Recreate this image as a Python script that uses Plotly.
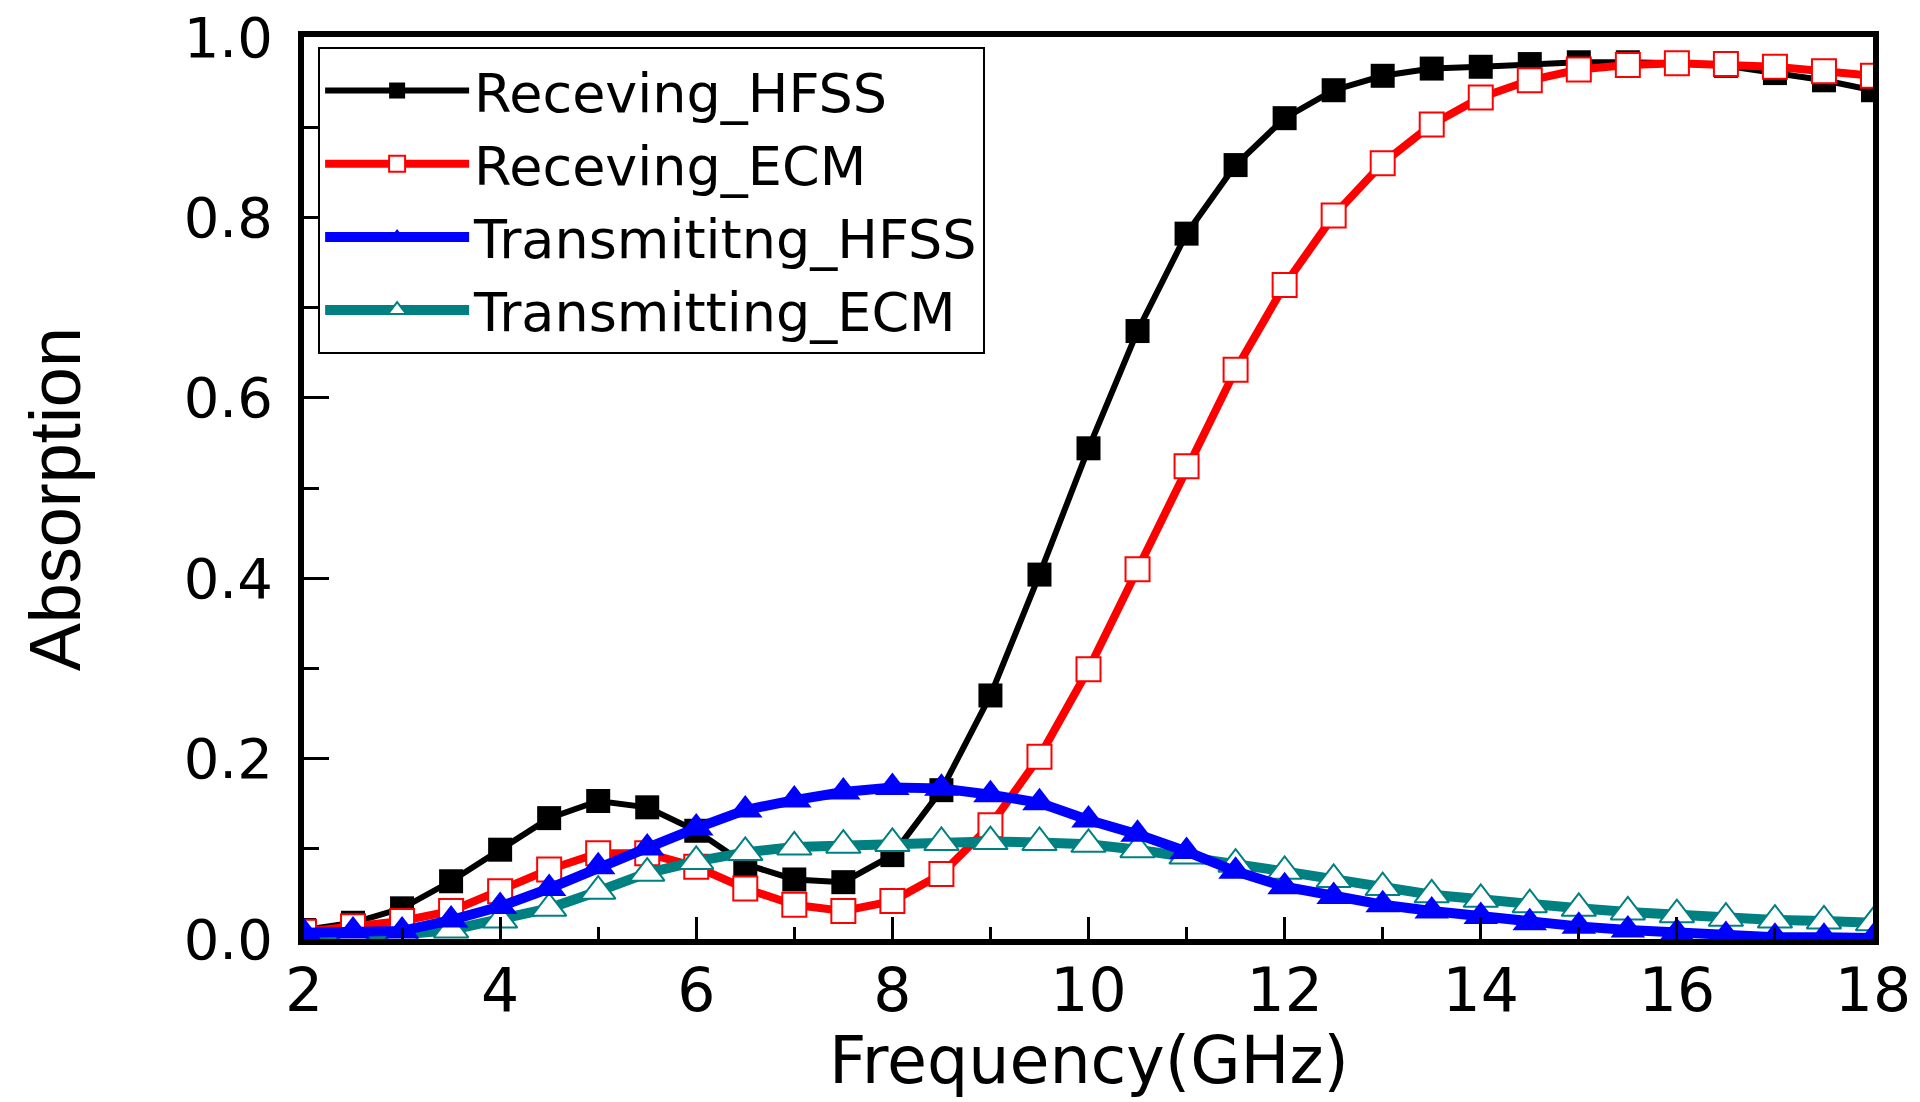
import plotly.graph_objects as go

freq = [2 + 0.5 * i for i in range(33)]

receiving_hfss = [0.010, 0.018, 0.034, 0.064, 0.099, 0.134, 0.153, 0.146, 0.120, 0.083,
                  0.066, 0.063, 0.093, 0.165, 0.270, 0.404, 0.544, 0.674, 0.782, 0.858,
                  0.910, 0.941, 0.957, 0.965, 0.967, 0.970, 0.972, 0.972, 0.971, 0.968,
                  0.960, 0.952, 0.941]
receiving_ecm = [0.008, 0.014, 0.020, 0.031, 0.053, 0.077, 0.095, 0.095, 0.080, 0.056,
                 0.038, 0.031, 0.042, 0.072, 0.126, 0.202, 0.299, 0.410, 0.524, 0.631,
                 0.725, 0.802, 0.860, 0.903, 0.933, 0.952, 0.964, 0.969, 0.971, 0.970,
                 0.967, 0.962, 0.957]
transmitting_hfss = [0.007, 0.009, 0.009, 0.021, 0.036, 0.056, 0.080, 0.101, 0.123, 0.143,
                     0.154, 0.163, 0.168, 0.167, 0.160, 0.151, 0.132, 0.116, 0.097, 0.075,
                     0.058, 0.047, 0.038, 0.031, 0.025, 0.018, 0.014, 0.010, 0.007, 0.004,
                     0.002, 0.002, 0.001]
transmitting_ecm = [0.003, 0.004, 0.005, 0.010, 0.021, 0.034, 0.053, 0.073, 0.086, 0.096,
                    0.102, 0.104, 0.106, 0.107, 0.108, 0.107, 0.105, 0.099, 0.092, 0.083,
                    0.075, 0.066, 0.057, 0.049, 0.044, 0.038, 0.034, 0.030, 0.027, 0.023,
                    0.021, 0.020, 0.018]

names = ["Receving_HFSS", "Receving_ECM", "Transmititng_HFSS", "Transmitting_ECM"]
x_title = "Frequency(GHz)"
y_title = "Absorption"
TEAL = "#008080"

fig = go.Figure()
fig.add_trace(go.Scatter(x=freq, y=receiving_hfss, name=names[0], mode="lines+markers",
                         line=dict(color="black", width=6),
                         marker=dict(symbol="square", size=24, color="black"),
                         legendrank=1))
fig.add_trace(go.Scatter(x=freq, y=receiving_ecm, name=names[1], mode="lines+markers",
                         line=dict(color="red", width=8),
                         marker=dict(symbol="square", size=24, color="white",
                                     line=dict(color="red", width=2)),
                         legendrank=2))
fig.add_trace(go.Scatter(x=freq, y=transmitting_ecm, name=names[3], mode="lines+markers",
                         line=dict(color=TEAL, width=10),
                         marker=dict(symbol="triangle-up", size=30, color="white",
                                     line=dict(color=TEAL, width=2)),
                         legendrank=4))
fig.add_trace(go.Scatter(x=freq, y=transmitting_hfss, name=names[2], mode="lines+markers",
                         line=dict(color="blue", width=10),
                         marker=dict(symbol="triangle-up", size=30, color="blue"),
                         legendrank=3))

fig.update_layout(
    width=1920, height=1102,
    margin=dict(l=304, r=47, t=37, b=163),
    paper_bgcolor="white", plot_bgcolor="white",
    font=dict(family="DejaVu Sans", color="black"),
    legend=dict(x=0.009, y=0.989, xanchor="left", yanchor="top",
                bgcolor="white", bordercolor="black", borderwidth=2,
                font=dict(family="DejaVu Sans", size=54, color="black"),
                itemwidth=144, tracegroupgap=0),
    showlegend=True,
    annotations=[
        dict(text=y_title, textangle=-90, xref="paper", yref="paper",
             x=-0.159, y=0.487, xanchor="center", yanchor="middle",
             showarrow=False,
             font=dict(family="Liberation Sans, Arial", size=72, color="black")),
        dict(text=x_title, xref="paper", yref="paper",
             x=0.5, y=-0.135, xanchor="center", yanchor="middle",
             showarrow=False,
             font=dict(family="DejaVu Sans", size=65, color="black")),
    ],
)
fig.update_xaxes(range=[2, 18], tickmode="linear", tick0=2, dtick=2,
                 ticks="inside", ticklen=22, tickwidth=3, tickcolor="black",
                 minor=dict(dtick=1, ticks="inside", ticklen=12, tickwidth=3, tickcolor="black"),
                 showline=True, linewidth=6, linecolor="black", mirror=True,
                 showgrid=False, zeroline=False, automargin=False,
                 ticklabelstandoff=-6,
                 tickfont=dict(family="DejaVu Sans", size=60))
fig.update_yaxes(range=[0, 1], tickmode="linear", tick0=0, dtick=0.2, tickformat=".1f",
                 ticks="inside", ticklen=25, tickwidth=3, tickcolor="black",
                 minor=dict(dtick=0.1, ticks="inside", ticklen=15, tickwidth=3, tickcolor="black"),
                 showline=True, linewidth=6, linecolor="black", mirror=True,
                 showgrid=False, zeroline=False, automargin=False,
                 ticklabelstandoff=14,
                 tickfont=dict(family="DejaVu Sans", size=56))

fig.write_html("out.html")
